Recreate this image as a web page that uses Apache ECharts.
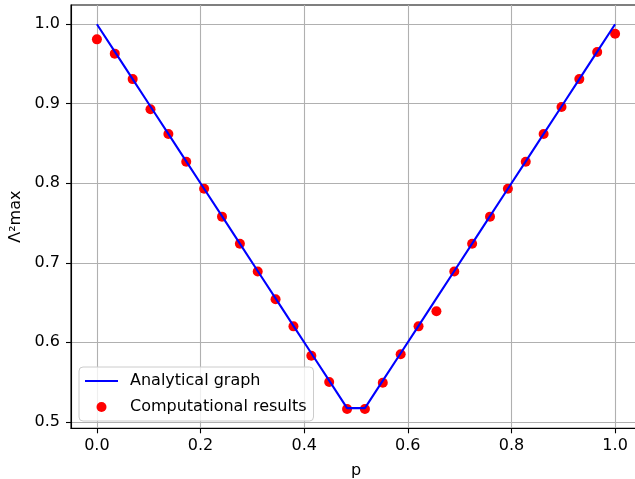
<!DOCTYPE html>
<html>
<head>
<meta charset="utf-8">
<script src="https://cdn.jsdelivr.net/npm/echarts@6/dist/echarts.min.js"></script>
<style>
  html, body { margin: 0; padding: 0; background: #fff; overflow: hidden; width: 635px; height: 479px; }
  #chart { width: 641px; height: 479px; }
</style>
</head>
<body>
<div id="chart"></div>
<script>
const pValues = [0, 0.0345, 0.069, 0.1034, 0.1379, 0.1724, 0.2069, 0.2414, 0.2759, 0.3103,
  0.3448, 0.3793, 0.4138, 0.4483, 0.4828, 0.5172, 0.5517, 0.5862, 0.6207, 0.6552,
  0.6897, 0.7241, 0.7586, 0.7931, 0.8276, 0.8621, 0.8966, 0.931, 0.9655, 1.0];
const analytical = [1.0, 0.9655, 0.931, 0.8966, 0.8621, 0.8276, 0.7931, 0.7586, 0.7241, 0.6897,
  0.6552, 0.6207, 0.5862, 0.5517, 0.5172, 0.5172, 0.5517, 0.5862, 0.6207, 0.6552,
  0.6897, 0.7241, 0.7586, 0.7931, 0.8276, 0.8621, 0.8966, 0.931, 0.9655, 1.0];
const computational = [0.981, 0.963, 0.931, 0.893, 0.862, 0.827, 0.793, 0.758, 0.724, 0.689,
  0.654, 0.620, 0.583, 0.550, 0.516, 0.516, 0.549, 0.585, 0.620, 0.639,
  0.689, 0.724, 0.758, 0.793, 0.827, 0.862, 0.896, 0.931, 0.965, 0.988];
const xTicks = [0.0, 0.2, 0.4, 0.6, 0.8, 1.0];
const yTicks = [0.5, 0.6, 0.7, 0.8, 0.9, 1.0];
const lineName = 'Analytical graph';
const scatterName = 'Computational results';
const xName = 'p';
const yName = 'Λ²max';

const font = 'DejaVu Sans';
const fs = 16;
const chart = echarts.init(document.getElementById('chart'), null, { renderer: 'canvas' });
chart.setOption({
  animation: false,
  textStyle: { fontFamily: font },
  grid: { left: 71, right: 0, top: 5, bottom: 50.7, outerBoundsMode: 'none', containLabel: false, show: true, borderColor: '#000', borderWidth: 1.1, backgroundColor: '#fff' },
  legend: {
    orient: 'vertical', left: 79, top: 367,
    padding: [6, 7, 6, 6],
    itemWidth: 33, itemHeight: 10, itemGap: 10,
    backgroundColor: 'rgba(255,255,255,0.8)', borderColor: '#cccccc', borderWidth: 1, borderRadius: 4,
    textStyle: { fontFamily: font, fontSize: fs, color: '#000', padding: [0, 0, 0, 7] },
    data: [
      { name: lineName, icon: 'path://M0,0L33,0L33,2.1L0,2.1Z' },
      { name: scatterName, icon: 'circle' }
    ]
  },
  xAxis: {
    type: 'value', min: -0.05, max: 1.05, splitNumber: 5,
    name: xName, nameLocation: 'middle', nameGap: 35,
    nameTextStyle: { fontFamily: font, fontSize: fs, color: '#000' },
    axisLine: { show: true, onZero: false, lineStyle: { color: '#000', width: 1.1 } },
    axisTick: { show: true, length: 5, lineStyle: { color: '#000', width: 1.1 }, customValues: xTicks },
    axisLabel: { fontFamily: font, fontSize: fs, color: '#000', margin: 10, customValues: xTicks, formatter: v => v.toFixed(1) },
    splitLine: { show: true, lineStyle: { color: '#b0b0b0', width: 1.1 } }
  },
  yAxis: {
    type: 'value', min: 0.4918, max: 1.0242, splitNumber: 5,
    name: yName, nameLocation: 'middle', nameGap: 43, nameRotate: 90,
    nameTextStyle: { fontFamily: font, fontSize: fs, color: '#000' },
    axisLine: { show: true, onZero: false, lineStyle: { color: '#000', width: 1.1 } },
    axisTick: { show: true, length: 5, lineStyle: { color: '#000', width: 1.1 }, customValues: yTicks },
    axisLabel: { fontFamily: font, fontSize: fs, color: '#000', margin: 11, customValues: yTicks, formatter: v => v.toFixed(1) },
    splitLine: { show: true, lineStyle: { color: '#b0b0b0', width: 1.1 } }
  },
  series: [
    {
      name: lineName, type: 'line', z: 3,
      data: pValues.map((p, i) => [p, analytical[i]]),
      symbol: 'none', showSymbol: false,
      lineStyle: { color: '#0000ff', width: 2.1 }, itemStyle: { color: '#0000ff' }
    },
    {
      name: scatterName, type: 'scatter', z: 2,
      data: pValues.map((p, i) => [p, computational[i]]),
      symbol: 'circle', symbolSize: 10,
      itemStyle: { color: '#ff0000', opacity: 1 }
    }
  ]
});
</script>
</body>
</html>
